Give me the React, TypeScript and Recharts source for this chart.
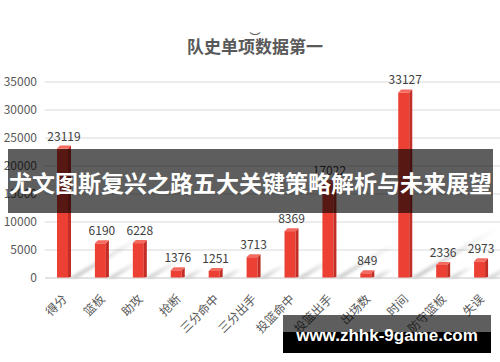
import { Bar, BarChart, CartesianGrid, LabelList, XAxis, YAxis } from "recharts";

const categories = ["得分", "篮板", "助攻", "抢断", "三分命中", "三分出手", "投篮命中", "投篮出手", "出场数", "时间", "防守篮板", "失误"];
const values = [23119, 6190, 6228, 1376, 1251, 3713, 8369, 17022, 849, 33127, 2336, 2973];
const yTicks = [0, 5000, 10000, 15000, 20000, 25000, 30000, 35000];

const data = categories.map((name, i) => ({ name, value: values[i] }));

const FONT = '"Noto Sans CJK SC", "Noto Sans", sans-serif';

// front face + darker side + lighter top, with a soft shadow streak
const Bar3D = (props: any) => {
  const { x, y, width, height } = props;
  if (!height || height <= 0) return null;
  const d = 3;
  const fw = width - d;
  const base = y + height;
  const sx = x + fw + d;
  const len = Math.min(height * 0.45 + 12, 80);
  const dy = len * 0.6;
  return (
    <g>
      <polygon
        points={`${sx - 2},${base} ${sx + 6},${base} ${sx + 6 + len},${base - dy} ${sx - 2 + len},${base - dy}`}
        fill="url(#shadowGrad)"
        filter="url(#blur)"
      />
      <rect x={x} y={y} width={fw} height={height} fill="#ec4034" />
      <polygon points={`${x + fw},${y} ${x + fw + d},${y - d} ${x + fw + d},${base - 1} ${x + fw},${base}`} fill="#c22e25" />
      <polygon points={`${x},${y} ${x + d},${y - d} ${x + fw + d},${y - d} ${x + fw},${y}`} fill="#f36a5f" />
    </g>
  );
};

const CatTick = (props: any) => {
  const { x, y, payload } = props;
  return (
    <text
      transform={`translate(${x + 1},${y + 11}) rotate(-45)`}
      textAnchor="end"
      fontSize={12}
      fill="#595959"
      fontFamily={FONT}
      dy={4}
    >
      {payload.value}
    </text>
  );
};

export default function App() {
  return (
    <div style={{ position: "fixed", left: 0, top: 0, width: 500, height: 362, background: "#fff", overflow: "hidden", fontFamily: FONT }}>
      <div style={{ position: "absolute", left: 0, width: 490, top: 30, textAlign: "center", fontSize: 11, lineHeight: "14px", color: "#404040", paddingLeft: 10 }}>︶</div>
      <div style={{ position: "absolute", left: 0, width: 490, top: 34, textAlign: "center", fontSize: 17, fontWeight: 700, color: "#595959", lineHeight: "24px", paddingLeft: 10 }}>
        队史单项数据第一
      </div>
      <BarChart width={500} height={362} data={data} margin={{ top: 82, right: 0, left: 0, bottom: 0 }} barCategoryGap={0}>
        <defs>
          <linearGradient id="shadowGrad" x1="0" y1="1" x2="1" y2="0">
            <stop offset="0%" stopColor="#000" stopOpacity={0.22} />
            <stop offset="100%" stopColor="#000" stopOpacity={0} />
          </linearGradient>
          <filter id="blur" x="-20%" y="-20%" width="140%" height="140%">
            <feGaussianBlur stdDeviation="1.5" />
          </filter>
        </defs>
        <CartesianGrid vertical={false} stroke="#d9d9d9" />
        <XAxis
          dataKey="name"
          interval={0}
          height={84}
          tick={<CatTick />}
          tickLine={false}
          axisLine={{ stroke: "#d9d9d9" }}
        />
        <YAxis
          width={45}
          domain={[0, 35000]}
          ticks={yTicks}
          tickLine={false}
          axisLine={false}
          tick={{ fontSize: 12, fill: "#595959", fontFamily: FONT }}
        />
        <Bar dataKey="value" barSize={14} shape={<Bar3D />} isAnimationActive={false}>
          <LabelList dataKey="value" position="top" offset={8} fontSize={12} fill="#404040" fontFamily={FONT} />
        </Bar>
      </BarChart>
      <div
        style={{
          position: "absolute",
          left: 8,
          top: 149,
          width: 485,
          height: 64,
          background: "rgba(0,0,0,0.63)",
          color: "#fff",
          fontSize: 23,
          fontWeight: 700,
          lineHeight: "66px",
          textAlign: "center",
          whiteSpace: "nowrap",
        }}
      >
        尤文图斯复兴之路五大关键策略解析与未来展望
      </div>
      <div style={{ position: "absolute", left: 283, top: 315, width: 208, height: 17, background: "rgba(0,0,0,0.63)" }} />
      <div
        style={{
          position: "absolute",
          left: 283,
          top: 332,
          width: 208,
          height: 21,
          background: "#000",
        }}
      />
      <div
        style={{
          position: "absolute",
          left: 283,
          top: 326,
          width: 208,
          textAlign: "center",
          color: "#fff",
          fontFamily: '"Liberation Sans", Arial, sans-serif',
          fontWeight: 700,
          fontSize: 17,
          lineHeight: "20px",
        }}
      >
        www.zhhk-9game.com
      </div>
    </div>
  );
}
